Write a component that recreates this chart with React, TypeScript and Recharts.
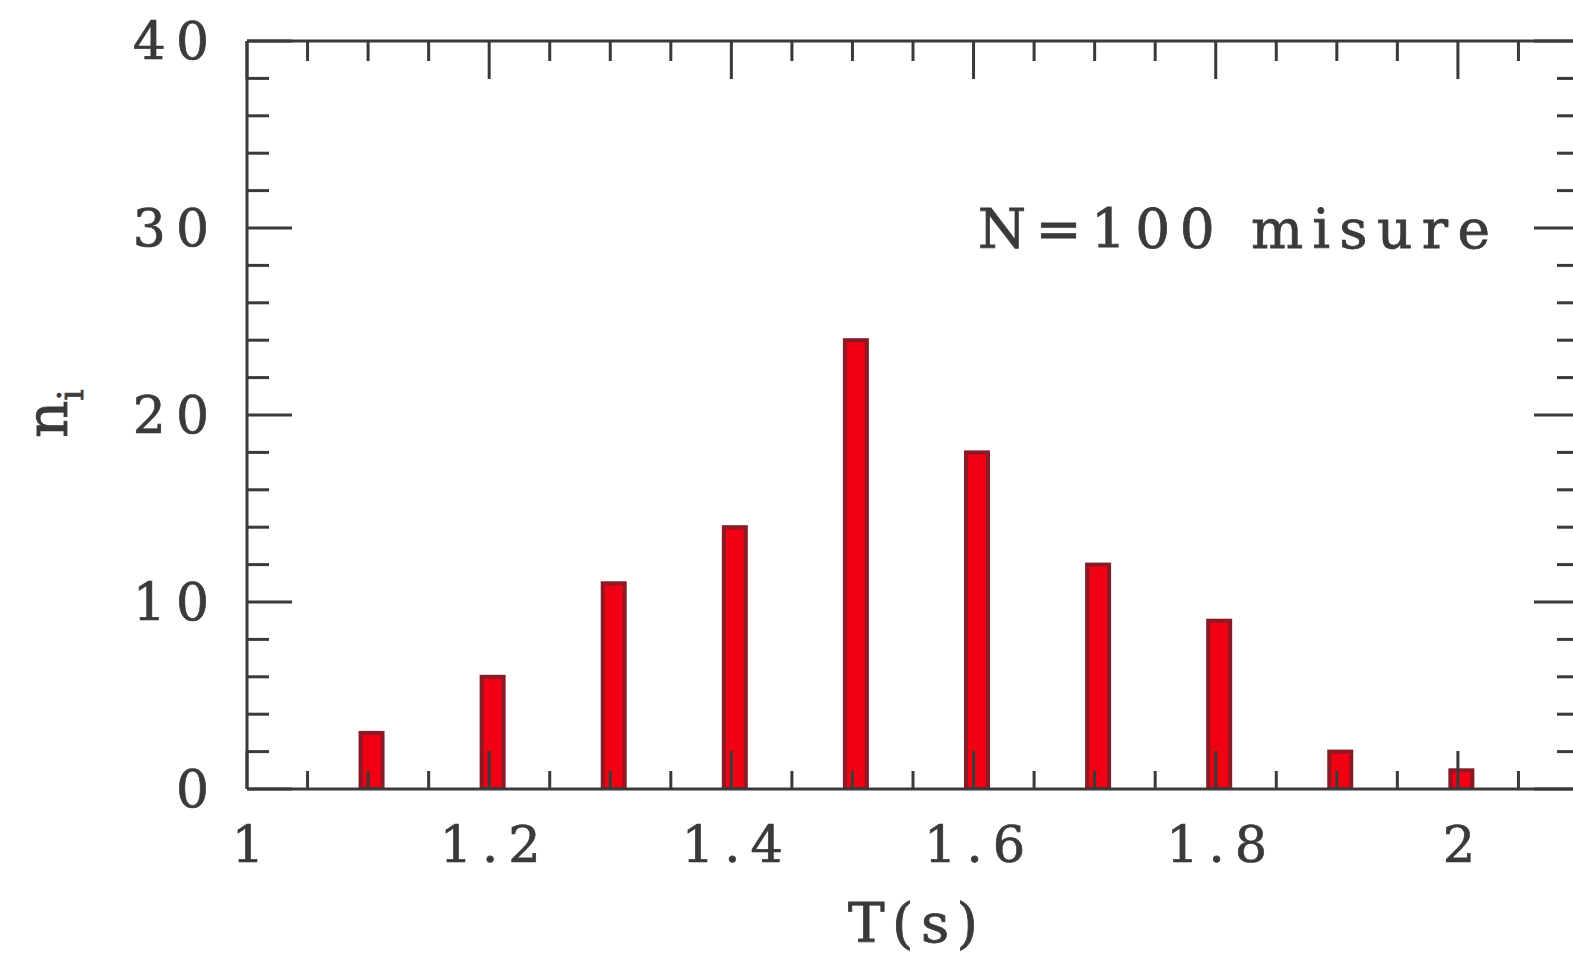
import { BarChart, Bar, XAxis, YAxis } from 'recharts';

// periodi misurati (s) e frequenze n_i
const periods = [1.1, 1.2, 1.3, 1.4, 1.5, 1.6, 1.7, 1.8, 1.9, 2.0];
const counts = [3, 6, 11, 14, 24, 18, 12, 9, 2, 1];

const xTicks = [
  1, 1.05, 1.1, 1.15, 1.2, 1.25, 1.3, 1.35, 1.4, 1.45, 1.5, 1.55,
  1.6, 1.65, 1.7, 1.75, 1.8, 1.85, 1.9, 1.95, 2, 2.05, 2.1,
];
const xLabels = [1, 1.2, 1.4, 1.6, 1.8, 2];
const yTicks = [0, 2, 4, 6, 8, 10, 12, 14, 16, 18, 20, 22, 24, 26, 28, 30, 32, 34, 36, 38, 40];
const yLabels = [0, 10, 20, 30, 40];

const data = periods.map((t, i) => ({ t, n: counts[i] }));

const INK = '#3a3a3a';
const FONT = '"DejaVu Serif", serif';

const isXLabel = (v: number) => xLabels.some((l) => Math.abs(l - v) < 1e-6);
const isYLabel = (v: number) => yLabels.includes(v);

const BottomTick = (props: any) => {
  const { x, y, payload } = props;
  const v = payload.value;
  const len = isXLabel(v) ? 38 : 18;
  return (
    <g>
      <line x1={x} y1={y} x2={x} y2={y - len} stroke={INK} strokeWidth={3} />
      {isXLabel(v) && (
        <text x={x + 6} y={y + 73} textAnchor="middle" fontFamily={FONT} fontSize={51}
          letterSpacing={10} fill={INK} stroke={INK} strokeWidth={0.7}>
          {String(v)}
        </text>
      )}
    </g>
  );
};

const TopTick = (props: any) => {
  const { x, y, payload } = props;
  const len = isXLabel(payload.value) ? 38 : 20;
  return <line x1={x} y1={y} x2={x} y2={y + len} stroke={INK} strokeWidth={3} />;
};

const LeftTick = (props: any) => {
  const { x, y, payload } = props;
  const v = payload.value;
  const len = isYLabel(v) ? 45 : 22;
  return (
    <g>
      <line x1={x} y1={y} x2={x + len} y2={y} stroke={INK} strokeWidth={3} />
      {isYLabel(v) && (
        <text x={x - 28} y={y + 18} textAnchor="end" fontFamily={FONT} fontSize={52}
          letterSpacing={10} fill={INK} stroke={INK} strokeWidth={0.7}>
          {String(v)}
        </text>
      )}
    </g>
  );
};

const RightTick = (props: any) => {
  const { x, y, payload } = props;
  const len = isYLabel(payload.value) ? 45 : 22;
  return <line x1={x} y1={y} x2={x - len} y2={y} stroke={INK} strokeWidth={3} />;
};

// barre leggermente spostate a destra come nell'originale
const BarShape = (props: any) => {
  const { x, y, width, height } = props;
  return (
    <rect x={x + 3} y={y} width={width} height={height}
      fill="#f00012" stroke="#8a1a26" strokeWidth={4} />
  );
};

export default function App() {
  return (
    <div style={{ position: 'absolute', left: 0, top: 0, width: 1573, height: 957, overflow: 'hidden', background: '#fff' }}>
      <BarChart
        width={1620}
        height={957}
        data={data}
        margin={{ top: 11, right: 21, left: 147, bottom: 68 }}
      >
        <XAxis
          xAxisId="bottom"
          dataKey="t"
          type="number"
          domain={[1, 2.1]}
          allowDataOverflow
          ticks={xTicks}
          interval={0}
          height={100}
          tickSize={0}
          tickMargin={0}
          tickLine={false}
          axisLine={{ stroke: INK, strokeWidth: 3 }}
          tick={<BottomTick />}
        />
        <XAxis
          xAxisId="top"
          dataKey="t"
          orientation="top"
          type="number"
          domain={[1, 2.1]}
          allowDataOverflow
          ticks={xTicks}
          interval={0}
          height={30}
          tickSize={0}
          tickMargin={0}
          tickLine={false}
          axisLine={{ stroke: INK, strokeWidth: 3 }}
          tick={<TopTick />}
        />
        <YAxis
          yAxisId="left"
          dataKey="n"
          type="number"
          domain={[0, 40]}
          allowDataOverflow
          ticks={yTicks}
          interval={0}
          width={100}
          tickSize={0}
          tickMargin={0}
          tickLine={false}
          axisLine={{ stroke: INK, strokeWidth: 3 }}
          tick={<LeftTick />}
        />
        <YAxis
          yAxisId="right"
          dataKey="n"
          orientation="right"
          type="number"
          domain={[0, 40]}
          allowDataOverflow
          ticks={yTicks}
          interval={0}
          width={20}
          tickSize={0}
          tickMargin={0}
          tickLine={false}
          axisLine={{ stroke: INK, strokeWidth: 3 }}
          tick={<RightTick />}
        />
        <Bar
          xAxisId="bottom"
          yAxisId="left"
          dataKey="n"
          barSize={22}
          shape={<BarShape />}
          isAnimationActive={false}
        />
      </BarChart>
      <svg width={1573} height={957} style={{ position: 'absolute', left: 0, top: 0, pointerEvents: 'none' }}>
        <text x={978} y={248} fontFamily={FONT} fontSize={55} fill={INK} stroke={INK} strokeWidth={0.8}
          textLength={512} lengthAdjust="spacing">
          N=100  misure
        </text>
        <text x={848} y={942} fontFamily={FONT} fontSize={55} fill={INK} stroke={INK} strokeWidth={0.8}
          textLength={130} lengthAdjust="spacing">
          T(s)
        </text>
        <text transform="translate(67,438) rotate(-90)" fontFamily={FONT} fontSize={58} fill={INK}
          stroke={INK} strokeWidth={0.8}>
          n<tspan fontSize={36} dy={16}>i</tspan>
        </text>
      </svg>
    </div>
  );
}
